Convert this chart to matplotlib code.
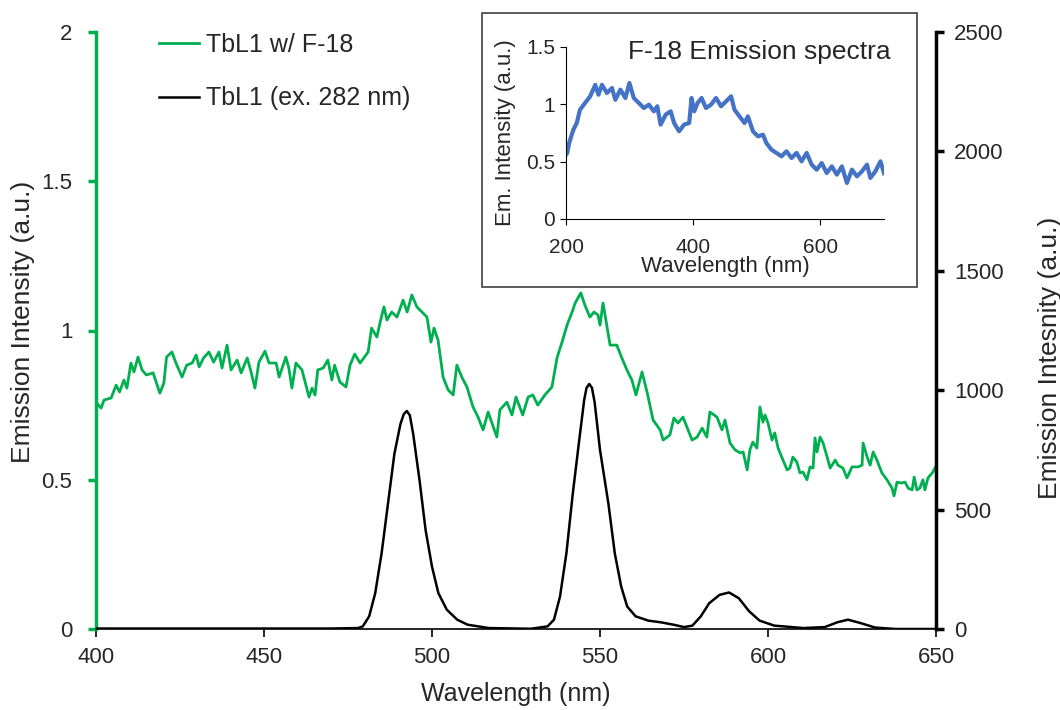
import matplotlib.pyplot as plt
from matplotlib.patches import Rectangle

plt.rcParams['font.family'] = ['Liberation Sans', 'DejaVu Sans']

# Data for plotting
# TbL1 w/ F-18 (left axis)
green_wl = [400.0, 401.5, 402.4, 404.5, 406.0, 407.0, 408.3, 409.2, 410.4, 411.3,
            412.5, 413.7, 415.0, 417.0, 419.0, 420.2, 421.0, 422.6, 423.8, 425.6,
            427.0, 428.6, 429.8, 430.7, 432.0, 433.6, 435.0, 436.6, 437.5, 439.0,
            440.2, 442.0, 443.2, 445.0, 446.0, 447.3, 448.5, 450.3, 451.5, 453.6,
            454.5, 456.5, 457.4, 458.3, 459.5, 461.3, 463.4, 464.3, 465.2, 466.0,
            467.6, 469.0, 470.2, 471.0, 472.6, 474.4, 475.6, 477.0, 478.6, 481.0,
            482.0, 483.6, 484.5, 485.7, 486.6, 488.0, 489.6, 491.4, 492.6, 494.0,
            495.5, 497.0, 498.5, 499.7, 500.6, 501.8, 503.3, 504.8, 506.3, 507.4,
            509.0, 510.4, 512.2, 513.7, 515.2, 516.7, 519.3, 520.2, 522.3, 523.8,
            525.0, 527.0, 528.6, 530.0, 531.5, 533.6, 535.7, 537.2, 538.7, 540.2,
            541.7, 542.6, 544.3, 545.5, 547.0, 548.2, 549.4, 550.0, 550.9, 553.0,
            555.0, 556.5, 558.0, 559.5, 560.7, 562.5, 564.0, 565.8, 567.9, 568.8,
            570.8, 572.0, 573.2, 574.7, 576.2, 577.4, 578.9, 580.4, 581.8, 582.7,
            584.8, 586.3, 587.2, 588.7, 590.2, 591.7, 592.6, 593.8, 594.6, 595.5,
            596.7, 597.6, 598.5, 599.1, 600.0, 601.2, 602.0, 603.0, 604.2, 605.7,
            606.5, 607.4, 608.6, 609.5, 610.4, 611.6, 612.5, 613.4, 614.0, 614.6,
            615.5, 616.4, 617.6, 618.5, 620.0, 620.8, 622.3, 623.5, 625.0, 626.8,
            628.0, 628.3, 629.5, 630.4, 631.3, 632.4, 633.9, 635.4, 636.9, 637.5,
            638.4, 639.6, 640.8, 641.7, 642.9, 643.5, 644.3, 645.2, 646.1, 646.7,
            647.6, 649.1, 650.0]
green_val = [0.76, 0.74, 0.767, 0.774, 0.817, 0.794, 0.834, 0.807, 0.891, 0.861,
             0.911, 0.868, 0.851, 0.858, 0.79, 0.824, 0.911, 0.928, 0.891, 0.844,
             0.884, 0.891, 0.918, 0.878, 0.908, 0.928, 0.894, 0.928, 0.874, 0.951,
             0.868, 0.901, 0.858, 0.908, 0.868, 0.807, 0.894, 0.931, 0.891, 0.891,
             0.844, 0.911, 0.874, 0.807, 0.891, 0.868, 0.777, 0.807, 0.784, 0.868,
             0.874, 0.901, 0.834, 0.884, 0.827, 0.811, 0.884, 0.921, 0.891, 0.928,
             1.008, 0.978, 1.025, 1.079, 1.035, 1.062, 1.045, 1.102, 1.062, 1.119,
             1.079, 1.062, 1.045, 0.961, 1.008, 0.968, 0.844, 0.801, 0.784, 0.884,
             0.841, 0.811, 0.744, 0.71, 0.667, 0.727, 0.643, 0.734, 0.76, 0.717,
             0.777, 0.717, 0.777, 0.784, 0.75, 0.784, 0.811, 0.908, 0.961, 1.018,
             1.062, 1.092, 1.126, 1.085, 1.045, 1.062, 1.052, 1.018, 1.092, 0.951,
             0.951, 0.908, 0.868, 0.834, 0.784, 0.861, 0.794, 0.70, 0.667, 0.633,
             0.65, 0.707, 0.69, 0.71, 0.667, 0.633, 0.643, 0.673, 0.643, 0.727,
             0.71, 0.667, 0.70, 0.623, 0.60, 0.59, 0.593, 0.533, 0.60, 0.626,
             0.606, 0.744, 0.693, 0.717, 0.69, 0.633, 0.657, 0.606, 0.573, 0.533,
             0.539, 0.576, 0.559, 0.523, 0.526, 0.50, 0.543, 0.539, 0.64, 0.593,
             0.643, 0.623, 0.576, 0.539, 0.566, 0.549, 0.539, 0.506, 0.543, 0.543,
             0.549, 0.623, 0.576, 0.549, 0.593, 0.566, 0.523, 0.50, 0.472, 0.446,
             0.492, 0.489, 0.492, 0.472, 0.466, 0.509, 0.466, 0.472, 0.50, 0.466,
             0.506, 0.526, 0.546]

# TbL1 (ex. 282 nm) (right axis)
black_wl = [400, 440, 470, 478.0, 479.4, 481.3, 483.1, 485.0, 486.9, 488.8, 490.6,
            491.6, 492.5, 493.4, 494.4, 496.3, 498.1, 500.0, 501.9, 504.4, 507.5,
            510.6, 516.9, 529.4, 534.4, 536.3, 538.1, 540.0, 541.9, 543.8, 545.3,
            546.0, 546.8, 547.6, 548.4, 550.0, 552.5, 554.4, 556.3, 558.1, 560.6,
            564.4, 568.1, 571.9, 575.0, 577.5, 580.0, 582.5, 585.6, 588.4, 591.3,
            594.4, 597.5, 601.9, 610.6, 616.9, 620.6, 623.8, 627.5, 631.9, 638.0, 650]
black_val = [2, 2, 2, 4, 11, 53, 150, 317, 525, 733, 858,
             900, 913, 895, 817, 622, 414, 261, 150, 81, 39,
             18, 4, 1, 11, 39, 136, 317, 567, 789, 960,
             1010, 1026, 1010, 950, 750, 525, 317, 178, 94, 53,
             35, 28, 18, 8, 14, 53, 108, 143, 153, 129,
             74, 35, 14, 4, 8, 28, 39, 25, 6, 0, 0]

# F-18 emission spectra (inset)
blue_wl = [200, 202, 205, 211.6, 216.9, 222, 230, 238, 246, 251, 256.5, 264.4, 272.3,
           277.6, 285.5, 293.4, 299.7, 306.6, 314.5, 322.4, 330.3, 338.3, 343.5,
           348.8, 356.7, 364.6, 370, 377.8, 385.7, 393.7, 397.4, 401.6, 406.9,
           413.2, 420, 428, 435.9, 443.8, 451.7, 459.6, 464.9, 472.8, 480.7, 486,
           494, 501.8, 509.8, 515, 523, 530.9, 538.8, 546.7, 554.6, 562.5, 570.4,
           578.4, 586.3, 594.2, 602, 610, 618, 625.9, 633.8, 641.7, 649.6, 657.5,
           665.4, 673.3, 678.6, 686.5, 694.4, 700]
blue_val = [0.56, 0.576, 0.663, 0.779, 0.837, 0.953, 1.012, 1.07, 1.17, 1.084, 1.17,
            1.099, 1.142, 1.04, 1.128, 1.055, 1.186, 1.055, 1.012, 0.968, 0.997,
            0.939, 0.983, 0.823, 0.91, 0.939, 0.837, 0.765, 0.823, 0.837, 1.055,
            0.939, 1.012, 1.055, 0.968, 0.997, 1.055, 0.983, 1.026, 1.07, 0.953,
            0.895, 0.837, 0.895, 0.765, 0.721, 0.735, 0.663, 0.605, 0.576, 0.547,
            0.59, 0.532, 0.576, 0.503, 0.576, 0.474, 0.43, 0.488, 0.401, 0.459,
            0.387, 0.459, 0.314, 0.43, 0.372, 0.416, 0.474, 0.358, 0.416, 0.503,
            0.40]

left_ticks = [0, 0.5, 1, 1.5, 2]
left_labels = ['0', '0.5', '1', '1.5', '2']
right_ticks = [0, 500, 1000, 1500, 2000, 2500]
x_ticks = [400, 450, 500, 550, 600, 650]
inset_xticks = [200, 400, 600]
inset_yticks = [0, 0.5, 1, 1.5]
inset_ylabels = ['0', '0.5', '1', '1.5']

green = '#00B050'
txt = '#262626'

fig = plt.figure(figsize=(10.6, 7.1), dpi=100)
ax = fig.add_axes([96 / 1060, 1 - 629 / 710, 840 / 1060, 597 / 710])
ax2 = ax.twinx()

l1, = ax.plot(green_wl, green_val, color=green, lw=2, zorder=3)
l2, = ax2.plot(black_wl, black_val, color='black', lw=1.8)

ax.set_xlim(400, 650)
ax.set_ylim(0, 2)
ax2.set_ylim(0, 2500)
ax.set_xticks(x_ticks)
ax.set_yticks(left_ticks)
ax.set_yticklabels(left_labels)
ax2.set_yticks(right_ticks)

for s in ['top', 'right']:
    ax.spines[s].set_visible(False)
for s in ['top', 'left', 'bottom']:
    ax2.spines[s].set_visible(False)
ax.spines['left'].set_color(green)
ax.spines['left'].set_linewidth(2.5)
ax.spines['bottom'].set_linewidth(1.2)
ax2.spines['right'].set_linewidth(2.5)

ax.tick_params(axis='x', direction='out', length=6, width=1.2, pad=7,
               labelsize=16, labelcolor=txt)
ax.tick_params(axis='y', direction='out', length=6, width=2.5, color=green,
               pad=11, labelsize=16, labelcolor=txt)
ax2.tick_params(axis='y', direction='out', length=6, width=2.5, pad=7,
                labelsize=16, labelcolor=txt)

ax.set_xlabel('Wavelength (nm)', fontsize=18, color=txt, labelpad=10)
ax.set_ylabel('Emission Intensity (a.u.)', fontsize=19, color=txt)
ax.yaxis.set_label_coords(-0.0726, 0.514)
ax2.set_ylabel('Emission Intesnity (a.u.)', fontsize=19, color=txt)
ax2.yaxis.set_label_coords(1.121, 0.454)

ax2.legend([l1, l2], ['TbL1 w/ F-18', 'TbL1 (ex. 282 nm)'], loc='upper left',
           bbox_to_anchor=(136 / 1060, 1 - 10 / 710), bbox_transform=fig.transFigure,
           frameon=False, fontsize=18, handlelength=1.6, handletextpad=0.3,
           labelspacing=1.2, labelcolor=txt)

# inset frame and axes
fig.add_artist(Rectangle((482 / 1060, 1 - 287 / 710), 435 / 1060, 274 / 710,
                         transform=fig.transFigure, fill=True, facecolor='white',
                         edgecolor='#404040', lw=1.2, zorder=5))
axin = fig.add_axes([566 / 1060, 1 - 219 / 710, 318 / 1060, 172 / 710], zorder=6)
axin.plot(blue_wl, blue_val, color='#4472C4', lw=3)
axin.set_xlim(200, 700)
axin.set_ylim(0, 1.5)
axin.set_xticks(inset_xticks)
axin.set_yticks(inset_yticks)
axin.set_yticklabels(inset_ylabels)
for s in ['top', 'right']:
    axin.spines[s].set_visible(False)
axin.tick_params(axis='x', direction='out', length=4, pad=10, labelsize=15,
                 labelcolor=txt)
axin.tick_params(axis='y', direction='out', length=4, pad=4, labelsize=15,
                 labelcolor=txt)
axin.set_xlabel('Wavelength (nm)', fontsize=16, color=txt, labelpad=-1)
axin.set_ylabel('Em. Intensity (a.u.)', fontsize=16, color=txt, labelpad=7)
fig.text(759 / 1060, 1 - 52 / 710, 'F-18 Emission spectra', fontsize=19,
         color=txt, ha='center', va='center', zorder=7)

fig.savefig('out.png', dpi=100)
